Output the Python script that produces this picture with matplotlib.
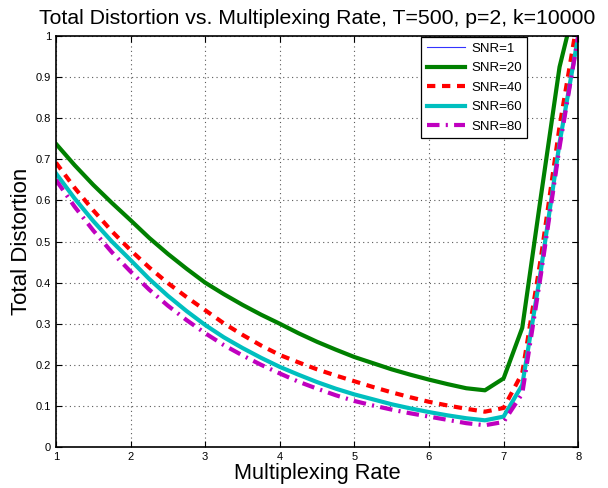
import matplotlib
matplotlib.use("Agg")
import matplotlib.pyplot as plt

plt.rcParams['font.family'] = ['Liberation Sans', 'DejaVu Sans']

# multiplexing rate samples
rate = [1.0, 1.25, 1.5, 1.75, 2.0, 2.25, 2.5, 2.75, 3.0, 3.25, 3.5, 3.75, 4.0,
        4.25, 4.5, 4.75, 5.0, 5.25, 5.5, 5.75, 6.0, 6.25, 6.5, 6.75, 7.0,
        7.25, 7.5, 7.75, 8.0]

# distortion per SNR
snr1 = [0.666, 0.605, 0.550, 0.500, 0.455, 0.409, 0.368, 0.331, 0.297, 0.267,
        0.241, 0.217, 0.195, 0.176, 0.158, 0.142, 0.128, 0.116, 0.104, 0.094,
        0.085, 0.077, 0.070, 0.065, 0.074, 0.151, 0.43, 0.74, 1.0]
snr20 = [0.738, 0.686, 0.638, 0.594, 0.552, 0.509, 0.470, 0.434, 0.400, 0.372,
         0.346, 0.322, 0.300, 0.277, 0.256, 0.237, 0.219, 0.204, 0.189, 0.176,
         0.164, 0.153, 0.143, 0.138, 0.167, 0.29, 0.61, 0.925, 1.11]
snr40 = [0.692, 0.631, 0.576, 0.525, 0.479, 0.437, 0.399, 0.365, 0.333, 0.301,
         0.273, 0.247, 0.224, 0.206, 0.189, 0.174, 0.160, 0.146, 0.133, 0.121,
         0.110, 0.101, 0.093, 0.086, 0.095, 0.18, 0.46, 0.78, 1.05]
snr60 = [0.666, 0.605, 0.550, 0.500, 0.455, 0.409, 0.368, 0.331, 0.297, 0.267,
         0.241, 0.217, 0.195, 0.176, 0.158, 0.142, 0.128, 0.116, 0.104, 0.094,
         0.085, 0.077, 0.070, 0.065, 0.074, 0.151, 0.43, 0.74, 1.0]
snr80 = [0.650, 0.585, 0.527, 0.474, 0.427, 0.383, 0.344, 0.309, 0.277, 0.248,
         0.223, 0.200, 0.179, 0.159, 0.142, 0.126, 0.112, 0.101, 0.091, 0.082,
         0.074, 0.066, 0.058, 0.053, 0.061, 0.13, 0.42, 0.73, 1.0]

fig = plt.figure(figsize=(6.08, 4.88), dpi=100)
ax = fig.add_axes([0.092, 0.084, 0.859, 0.842])

ax.plot(rate, snr1, color=(0.2, 0.2, 1), lw=0.8, label='SNR=1')
ax.plot(rate, snr20, color=(0, 0.5, 0), lw=3, label='SNR=20')
ax.plot(rate, snr40, color='red', lw=3, ls=(0, (2, 1.6)), label='SNR=40')
ax.plot(rate, snr60, color=(0, 0.75, 0.75), lw=3, label='SNR=60')
ax.plot(rate, snr80, color=(0.75, 0, 0.75), lw=3, ls=(0, (3, 1.5, 0.5, 1.5)),
        label='SNR=80')

ax.set_xlim(1, 8)
ax.set_ylim(0, 1)
ax.set_xticks(range(1, 9))
ax.set_yticks([i / 10 for i in range(11)])
ax.set_yticklabels(['0', '0.1', '0.2', '0.3', '0.4', '0.5', '0.6', '0.7',
                    '0.8', '0.9', '1'])
ax.tick_params(direction='in', top=True, right=True, labelsize=8, length=4)
ax.grid(True, ls=(0, (1, 3)), color='0.35', lw=0.8)
for s in ax.spines.values():
    s.set_linewidth(1.2)

ax.set_title('Total Distortion vs. Multiplexing Rate, T=500, p=2, k=10000',
             fontsize=15.3, pad=9)
ax.set_xlabel('Multiplexing Rate', fontsize=15.7, labelpad=1)
ax.set_ylabel('Total Distortion', fontsize=16, labelpad=3)

leg = ax.legend(loc='upper right', bbox_to_anchor=(0.905, 1.0), fontsize=9.5,
                fancybox=False, framealpha=1, edgecolor='black',
                handlelength=2.9, handletextpad=0.5, borderpad=0.4,
                labelspacing=0.55, borderaxespad=0.1)
leg.get_frame().set_linewidth(0.9)

fig.savefig('out.png', dpi=100)
